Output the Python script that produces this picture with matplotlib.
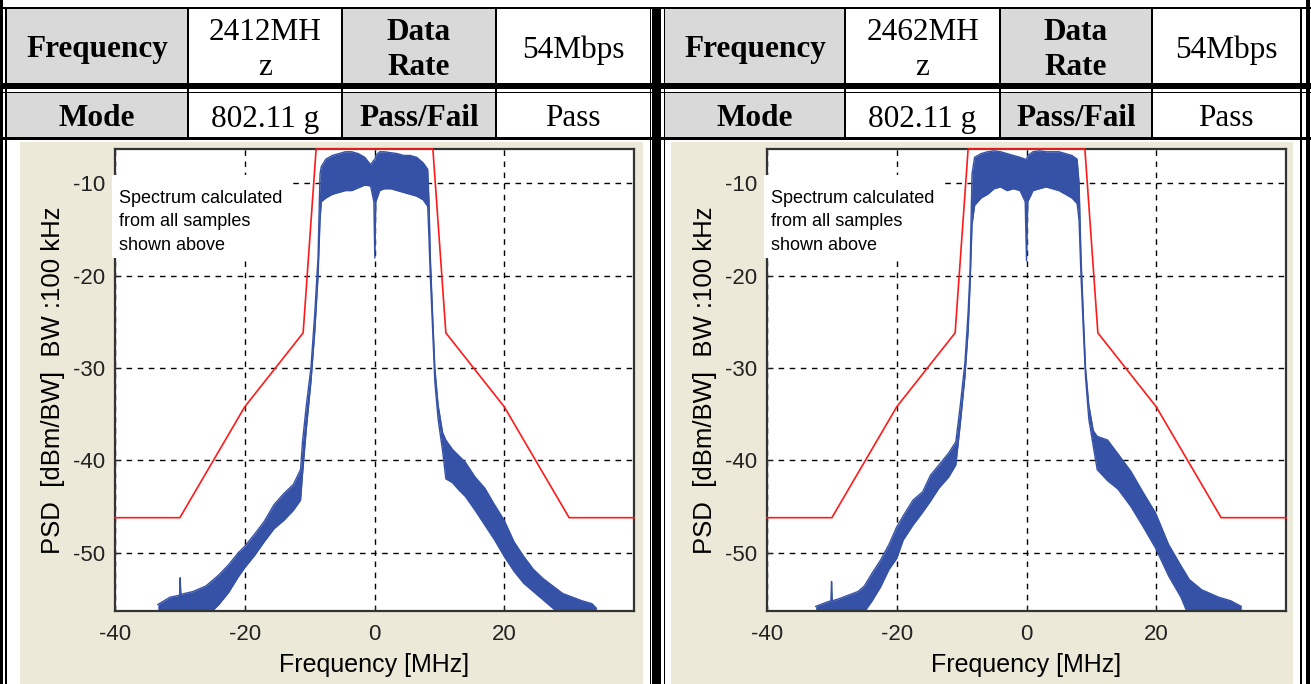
import matplotlib
matplotlib.use('Agg')
import matplotlib.pyplot as plt
from matplotlib.patches import Rectangle


W, H = 1311, 684

# table contents, one list per half
left_row1 = ['Frequency', '2412MH\nz', 'Data\nRate', '54Mbps']
right_row1 = ['Frequency', '2462MH\nz', 'Data\nRate', '54Mbps']
left_row2 = ['Mode', '802.11 g', 'Pass/Fail', 'Pass']
right_row2 = ['Mode', '802.11 g', 'Pass/Fail', 'Pass']
is_header = [True, False, True, False]

# spectral mask (MHz, dBm/BW)
mask_freq = [-40, -30, -20, -11, -9, 9, 11, 20, 30, 40]
mask_level = [-46.2, -46.2, -34.2, -26.2, -6.3, -6.3, -26.2, -34.2, -46.2, -46.2]

# 2412 MHz spectrum, read as upper / lower envelope of the noisy trace
f_2412 = [-33.4, -31.5, -30.05, -29.95, -29.85, -28.0, -26.0, -24.0, -22.5,
          -21.0, -20.0, -18.5, -17.0, -15.5, -14.0, -12.5, -11.4, -11.1,
          -10.5, -9.8, -9.2, -8.7, -8.4, -8.2, -7.5, -6.5, -5.5, -4.5, -3.5,
          -2.5, -1.5, -0.6, -0.1, 0.05, 0.2, 0.8, 1.5, 2.5, 3.5, 4.5, 5.5,
          6.5, 7.5, 8.2, 8.4, 8.6, 9.0, 9.3, 9.8, 10.5, 11.0, 12.0, 13.0,
          14.0, 15.5, 17.0, 18.5, 20.0, 21.5, 23.0, 24.5, 26.0, 27.5, 29.0,
          30.5, 32.0, 33.5, 34.2]
up_2412 = [-55.6, -54.8, -54.6, -52.7, -54.5, -54.2, -53.6, -52.4, -51.3,
           -50.0, -49.3, -48.0, -46.6, -44.8, -43.6, -42.6, -41.0, -38.0,
           -34.0, -30.0, -24.0, -18.0, -9.0, -8.2, -7.4, -7.0, -6.8, -6.6,
           -6.6, -6.8, -7.2, -8.0, -7.5, -7.5, -7.0, -6.6, -6.6, -6.7, -6.8,
           -7.0, -7.0, -7.2, -7.8, -8.5, -12.0, -18.0, -25.0, -30.0, -34.0,
           -37.0, -37.8, -38.8, -39.5, -40.2, -41.8, -43.0, -44.8, -46.5,
           -48.8, -50.4, -51.8, -52.8, -53.6, -54.4, -54.8, -55.2, -55.5, -56.0]
lo_2412 = [-57, -57, -57, -57, -57, -57, -57, -55.6, -54.3,
           -52.6, -51.6, -50.3, -48.8, -47.4, -46.5, -45.4, -44.3, -41.5,
           -36.5, -31.5, -26.0, -20.0, -14.0, -12.0, -11.6, -11.2, -11.0,
           -10.8, -10.8, -10.5, -10.2, -10.3, -12.0, -18.1, -12.0, -10.8,
           -10.6, -10.6, -10.8, -11.0, -11.2, -11.4, -11.8, -12.5, -16.0,
           -20.0, -26.5, -31.5, -35.5, -39.0, -42.0, -42.4, -43.2, -43.9,
           -45.4, -47.0, -48.6, -50.4, -52.0, -53.3, -54.2, -55.1, -56.0,
           -57, -57, -57, -57, -57]

# 2462 MHz spectrum
f_2462 = [-32.5, -30.6, -30.15, -30.05, -29.95, -29.0, -27.5, -26.0, -25.0,
          -23.8, -22.5, -21.2, -20.0, -19.0, -17.5, -16.0, -14.8, -13.5,
          -12.0, -10.9, -10.2, -9.5, -9.0, -8.7, -8.4, -8.0, -7.0, -6.0,
          -5.0, -4.0, -3.0, -2.0, -1.0, -0.2, 0.0, 0.2, 1.0, 2.0, 3.0, 4.0,
          5.0, 6.0, 7.0, 7.8, 8.1, 8.4, 8.8, 9.1, 9.6, 10.3, 10.9, 12.5,
          14.1, 16.1, 18.0, 19.9, 21.9, 23.8, 25.1, 27.0, 29.6, 31.5, 33.1]
up_2462 = [-55.8, -55.3, -55.2, -53.1, -55.2, -55.0, -54.6, -54.2, -53.6,
           -52.2, -50.8, -49.1, -47.2, -46.0, -44.3, -43.4, -41.6, -40.5,
           -39.2, -38.0, -34.0, -29.5, -24.0, -19.5, -9.0, -7.2, -6.8, -6.6,
           -6.5, -6.6, -6.8, -7.0, -7.2, -7.4, -7.4, -7.0, -6.6, -6.5, -6.6,
           -6.6, -6.6, -6.8, -7.0, -7.4, -10.0, -18.0, -25.0, -30.0, -34.0,
           -36.8, -37.4, -37.8, -39.3, -41.2, -43.5, -45.7, -49.1, -51.4,
           -52.9, -54.0, -54.8, -55.2, -55.8]
lo_2462 = [-57, -57, -57, -57, -57, -57, -57, -57, -56.4,
           -55.2, -53.7, -51.8, -50.6, -48.6, -47.0, -45.6, -44.4, -43.0,
           -41.8, -40.5, -36.0, -31.0, -26.0, -21.0, -14.5, -12.4, -11.6,
           -11.2, -10.6, -10.4, -10.8, -10.6, -10.8, -12.0, -18.4, -12.0,
           -10.8, -10.6, -10.4, -10.6, -10.8, -11.2, -11.6, -12.2, -14.0,
           -20.0, -26.5, -31.0, -35.5, -38.5, -41.0, -42.2, -43.1, -45.0,
           -47.2, -49.5, -52.5, -54.8, -57, -57, -57, -57, -57]

xticks = [-40, -20, 0, 20]
yticks = [-50, -40, -30, -20, -10]
note = 'Spectrum calculated\nfrom all samples\nshown above'
ylab = 'PSD  [dBm/BW]  BW :100 kHz'

BEIGE = '#ece9d8'
GRAY = '#d9d9d9'
BLUE = '#3652a6'

plt.rcParams['font.family'] = ['Liberation Sans', 'DejaVu Sans']
plt.rcParams['axes.unicode_minus'] = False


def frac(x0, y0, x1, y1):
    return [x0 / W, 1 - y1 / H, (x1 - x0) / W, (y1 - y0) / H]


def box(ax, x0, y0, x1, y1, color):
    ax.add_patch(Rectangle((x0, y0), x1 - x0, y1 - y0, facecolor=color,
                           edgecolor='none', linewidth=0))


def draw_table(bg, cols, row1, row2):
    rows = [(9, 83, 4, row1), (93, 137, 4, row2)]
    for y0, y1, dy, texts in rows:
        for i, t in enumerate(texts):
            x0, x1 = cols[i], cols[i + 1]
            box(bg, x0, y0, x1, y1, GRAY if is_header[i] else 'white')
            bg.text((x0 + x1) / 2, (y0 + y1) / 2 + dy, t, ha='center',
                    va='center', family='Liberation Serif', fontsize=22.5,
                    fontweight='bold' if is_header[i] else 'normal',
                    linespacing=1.25)
    for x in cols[1:-1]:
        box(bg, x - 1, 8, x + 1, 138, 'black')


def draw_panel(fig, rect, freq, upper, lower):
    ax = fig.add_axes(frac(*rect))
    ax.set_axisbelow(True)
    ax.fill_between(freq, lower, upper, color=BLUE, linewidth=0, zorder=2)
    ax.plot(freq, upper, color=BLUE, lw=1, zorder=2)
    ax.plot(freq, lower, color=BLUE, lw=1, zorder=2)
    ax.plot(mask_freq, mask_level, color='#ff1a1a', lw=1.2, zorder=4,
            clip_on=False)
    ax.set_xlim(-40, 40)
    ax.set_ylim(-56.3, -6.3)
    ax.set_xticks(xticks)
    ax.set_yticks(yticks)
    ax.grid(True, color='black', linestyle=(0, (4, 4)), linewidth=1)
    ax.tick_params(direction='in', length=4, labelsize=16, pad=7,
                   colors='#222222')
    ax.tick_params(axis='x', pad=9)
    for s in ax.spines.values():
        s.set_linewidth(1.6)
        s.set_color('#333333')
    ax.set_xlabel('Frequency [MHz]', fontsize=18, labelpad=6)
    ax.set_ylabel(ylab, fontsize=18.5, labelpad=6)
    ax.add_patch(Rectangle((-0.006, 0.764), 0.343, 0.18, transform=ax.transAxes,
                           facecolor='white', edgecolor='none', zorder=3,
                           clip_on=False))
    ax.text(0.008, 0.912, note, transform=ax.transAxes, fontsize=13,
            va='top', ha='left', linespacing=1.5, zorder=5)
    return ax


def main():
    fig = plt.figure(figsize=(W / 100, H / 100), dpi=100)
    bg = fig.add_axes([0, 0, 1, 1])
    bg.set_xlim(0, W)
    bg.set_ylim(H, 0)
    bg.axis('off')

    # beige plot panels
    box(bg, 20, 142, 643, H, BEIGE)
    box(bg, 671, 142, 1293, H, BEIGE)

    draw_table(bg, [6, 188, 342, 496, 650], left_row1, left_row2)
    draw_table(bg, [665, 845, 1000, 1152, 1300], right_row1, right_row2)

    # rules
    box(bg, 0, 7, W, 9, 'black')
    box(bg, 0, 83, W, 89, 'black')
    box(bg, 0, 91.5, W, 93, 'black')
    box(bg, 0, 137, W, 139.5, 'black')
    box(bg, 0, 0, 2.5, H, 'black')
    box(bg, 5, 7, 6.5, H, 'black')
    box(bg, 649.5, 7, 651, H, 'black')
    box(bg, 652, 7, 661, H, 'black')
    box(bg, 663.5, 7, 665, H, 'black')
    box(bg, 1300, 7, 1301.5, H, 'black')
    box(bg, 1306, 0, 1310, H, 'black')

    draw_panel(fig, (115, 149, 634, 611), f_2412, up_2412, lo_2412)
    draw_panel(fig, (767, 149, 1286, 611), f_2462, up_2462, lo_2462)

    plt.savefig('out.png', dpi=100)
    plt.close()


if __name__ == '__main__':
    main()
